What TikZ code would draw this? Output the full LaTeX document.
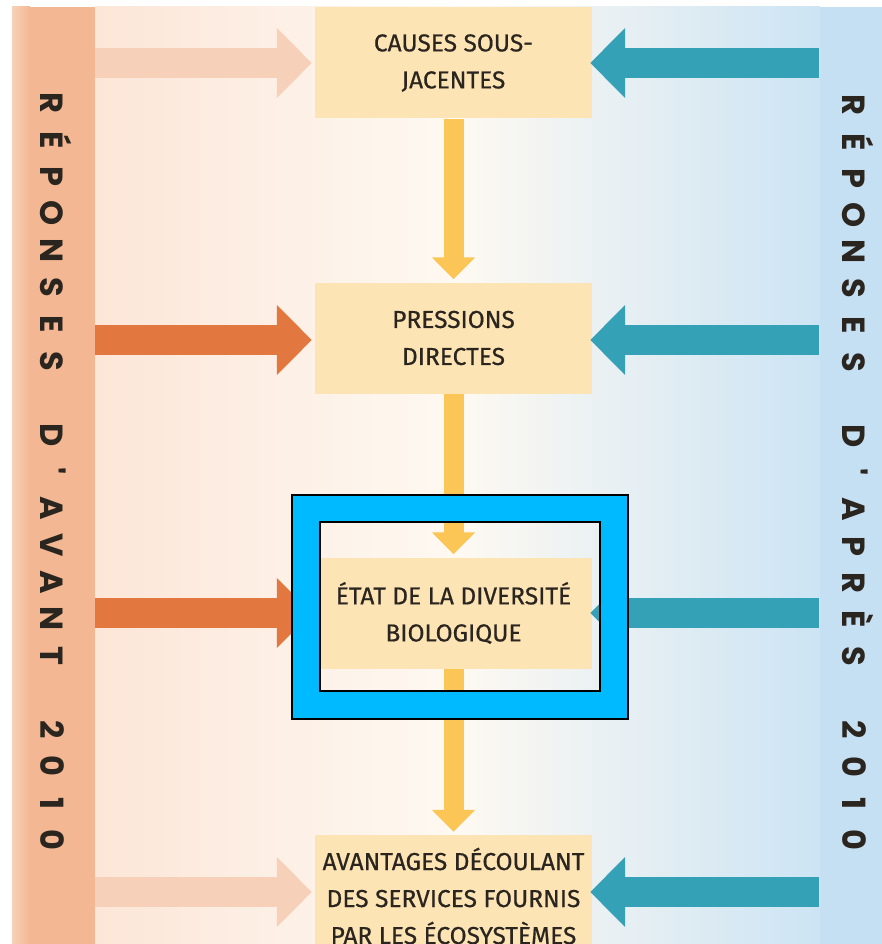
\documentclass[tikz,border=0pt]{standalone}
\usepackage{fontspec}
\usepackage{tikz}
\usetikzlibrary{arrows.meta}
\setmainfont{Fira Sans}
\newfontfamily\boxfont[FakeBold=0.6]{Fira Sans}
\newfontfamily\bandfont{Poppins}

\definecolor{bandpeach}{HTML}{F3B893}
\definecolor{bandblue}{HTML}{C6E0F3}
\definecolor{bgpeach}{HTML}{FCE6D8}
\definecolor{bgwhite}{HTML}{FEF9F2}
\definecolor{bgblue}{HTML}{CCE4F4}
\definecolor{boxfill}{HTML}{FDE4B5}
\definecolor{boxtext}{HTML}{2B2520}
\definecolor{flowyellow}{HTML}{FBC655}
\definecolor{avantorange}{HTML}{E2773F}
\definecolor{avantfaded}{HTML}{F7D0BA}
\definecolor{apresteal}{HTML}{35A1B6}
\definecolor{highlight}{HTML}{00BAFF}

\tikzset{
  bandletter/.style={rotate=-90,inner sep=0pt,text height=23pt,text depth=0pt,
    font=\bandfont\bfseries\fontsize{32}{32}\selectfont,text=boxtext}
}

\begin{document}
\begin{tikzpicture}[x=1pt,y=-1pt]
			\clip (0,0) rectangle (882,944);
			\fill[white] (0,0) rectangle (882,944);
			
			% fonds et bandes laterales
			\shade[left color=bgpeach,right color=bgblue,middle color=bgwhite] (95,7) rectangle (820,944);
			\fill[bandpeach] (12,7) rectangle (95,944);
			\shade[left color=bandpeach!65!white,right color=bandpeach] (12,7) rectangle (30,944);
			\fill[bandblue] (820,7) rectangle (882,944);
			
			\foreach \c [count=\i] in {R,É,P,O,N,S,E,S,{},D,',A,V,A,N,T,{},2,0,1,0}
				\node[bandletter] (lt\i) at (51.5,{103+(\i-1)*36.85}) {\c};
			\foreach \c [count=\i] in {R,É,P,O,N,S,E,S,{},D,',A,P,R,È,S,{},2,0,1,0}
				\node[bandletter] (rt\i) at (854,{105+(\i-1)*36.75}) {\c};
			
			\begin{scope}[every node/.style={rectangle,fill=boxfill,minimum width=277pt,minimum height=111pt,
					inner sep=0pt,align=center,text=boxtext,font=\boxfont\fontsize{24.5}{37}\selectfont}]
				\node (causes) at (453.5,63) {CAUSES SOUS-\\JACENTES};
				\node (pressions) at (453.5,338) {PRESSIONS\\DIRECTES};
				\node (etat) at (453.5,613) {ÉTAT DE LA DIVERSITÉ\\BIOLOGIQUE};
				\node[minimum height=122pt] (avantages) at (453.5,896) {AVANTAGES DÉCOULANT\\DES SERVICES FOURNIS\\PAR LES ÉCOSYSTÈMES};
			\end{scope}
			
			\coordinate (av1) at (95,63);
			\coordinate (av2) at (95,340);
			\coordinate (av3) at (95,613);
			\coordinate (av4) at (95,892);
			\coordinate (ap1) at (819,63);
			\coordinate (ap2) at (819,340);
			\coordinate (ap3) at (819,613);
			\coordinate (ap4) at (819,892);
			
			\begin{scope}[every edge/.style={draw=flowyellow,line width=20pt,shorten >=3pt,-{Triangle[width=42pt,length=22pt]}}]
				\path (causes) edge (pressions);
				\path (pressions) edge (etat);
				\path (etat) edge (avantages);
			\end{scope}
			
			\begin{scope}[every edge/.style={draw,line width=30pt,shorten >=3pt,-{Triangle[width=68pt,length=35pt]}}]
				\path (av1) edge [avantfaded] (av1 -| causes.west);
				\path (av2) edge [avantorange] (av2 -| pressions.west);
				\path (av3) edge [avantorange] (av3 -| etat.west);
				\path (av4) edge [avantfaded] (av4 -| avantages.west);
				\path (ap1) edge [apresteal,shorten >=-2pt] (ap1 -| causes.east);
				\path (ap2) edge [apresteal,shorten >=-2pt] (ap2 -| pressions.east);
				\path (ap3) edge [apresteal,shorten >=-2pt] (ap3 -| etat.east);
				\path (ap4) edge [apresteal,shorten >=-2pt] (ap4 -| avantages.east);
			\end{scope}
			
			% cadre de mise en evidence
			\fill[highlight,even odd rule] (292,495) rectangle (628,719) (320,522) rectangle (600,691);
			\draw[black,line width=2pt] (292,495) rectangle (628,719) (320,522) rectangle (600,691);
		\end{tikzpicture}
\end{document}
